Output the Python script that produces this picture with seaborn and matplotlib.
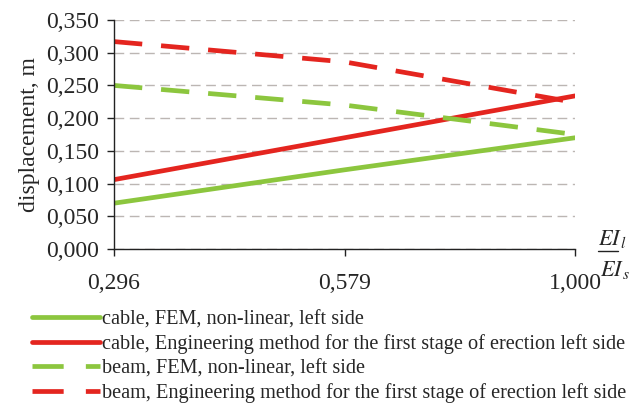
import pandas as pd
import matplotlib.pyplot as plt
import seaborn as sns
from matplotlib.lines import Line2D

# Data
ratio = ['0,296', '0,579', '1,000']
cable_fem = [0.070, 0.121, 0.170]
cable_eng = [0.106, 0.170, 0.234]
beam_fem = [0.250, 0.220, 0.175]
beam_eng = [0.317, 0.286, 0.224]

labels = ['cable, FEM, non-linear, left side',
          'cable, Engineering method for the first stage of erection left side',
          'beam, FEM, non-linear, left side',
          'beam, Engineering method for the first stage of erection left side']
series = [cable_fem, cable_eng, beam_fem, beam_eng]

green = '#8cc63e'
red = '#e4251f'
colors = [green, red, green, red]
dashed = [False, False, True, True]

sns.set_style('white')
plt.rcParams['font.family'] = ['Liberation Serif', 'DejaVu Serif']

fig = plt.figure(figsize=(6.37, 4.09), dpi=100)
ax = fig.add_axes([114 / 637, 1 - 249 / 409, (575 - 114) / 637, (249 - 20) / 409])

for lab, vals, col, d in zip(labels, series, colors, dashed):
    df = pd.DataFrame({'ratio': ratio, 'disp': vals})
    sns.lineplot(x='ratio', y='disp', data=df, ax=ax, color=col,
                 linewidth=3.4, label=lab, sort=False)
    if d:
        ax.lines[-1].set_dashes((6, 4))
        ax.lines[-1].set_dash_capstyle('butt')

ax.set_xlim(0, 2)
ax.set_ylim(0, 0.35)
ax.set_yticks([i * 0.05 for i in range(8)])
ax.set_yticklabels([f'{i * 0.05:.3f}'.replace('.', ',') for i in range(8)])
ax.yaxis.grid(True, linestyle=(0, (7, 4)), color='#bcb6b3', linewidth=1.0)
ax.set_axisbelow(True)

for s in ['top', 'right']:
    ax.spines[s].set_visible(False)
for s in ['left', 'bottom']:
    ax.spines[s].set_color('#222222')
    ax.spines[s].set_linewidth(1.0)

ax.tick_params(axis='both', which='both', direction='out', length=5, width=1,
               color='#222222', labelsize=17, left=True, bottom=True)
ax.tick_params(axis='y', pad=6)
ax.tick_params(axis='x', pad=12)
ax.set_xlabel('')
ax.set_ylabel('displacement, m', fontsize=17, labelpad=4)

# x-axis fraction label EI_l / EI_s
fig.text(598 / 637, 1 - 250 / 409, r'$EI_{\,l}$', fontsize=16, ha='left', va='bottom',
         math_fontfamily='stix')
fig.add_artist(Line2D([598 / 637, 618 / 637], [1 - 251 / 409, 1 - 251 / 409],
                      color='#222222', linewidth=1.0, transform=fig.transFigure))
fig.text(600 / 637, 1 - 259 / 409, r'$EI_{\,s}$', fontsize=16, ha='left', va='top',
         math_fontfamily='stix')

ax.get_legend().remove()
handles, labs = ax.get_legend_handles_labels()
leg = fig.legend(handles, labs, loc='upper left', bbox_to_anchor=(32 / 637, 1 - 310 / 409),
                 frameon=False, fontsize=14.6, handlelength=3.35, handletextpad=0.1,
                 labelspacing=0.25, borderpad=0, borderaxespad=0)
for hl, d in zip(leg.get_lines(), dashed):
    if d:
        hl.set_dashes((6.6, 4.7))

fig.savefig('out.png', dpi=100)
